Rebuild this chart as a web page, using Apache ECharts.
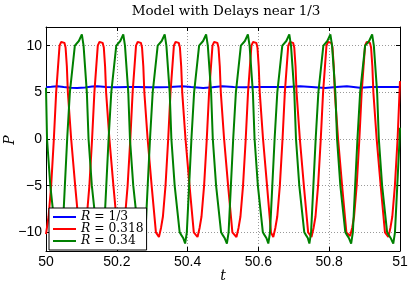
<!DOCTYPE html>
<html>
<head>
<meta charset="utf-8">
<script src="https://cdn.jsdelivr.net/npm/echarts@6/dist/echarts.min.js"></script>
<style>
html,body{margin:0;padding:0;background:#fff;}
#chart{width:411px;height:284px;}
</style>
</head>
<body>
<div id="chart"></div>
<script>
const titleText = 'Model with Delays near 1/3';
const xLabel = 't';
const yLabel = 'P';
const legendNames = ['R = 1/3', 'R = 0.318', 'R = 0.34'];
const xTicks = [50, 50.2, 50.4, 50.6, 50.8, 51];
const yTicks = [-10, -5, 0, 5, 10];

const blueData = [
[50.000,5.55],[50.015,5.6],[50.032,5.66],[50.05,5.58],[50.07,5.5],[50.088,5.46],[50.11,5.52],[50.13,5.62],[50.145,5.65],[50.17,5.58],[50.2,5.55],[50.23,5.56],[50.26,5.57],[50.29,5.55],[50.32,5.54],[50.35,5.57],[50.385,5.65],[50.41,5.56],[50.444,5.47],[50.47,5.55],[50.498,5.65],[50.53,5.58],[50.56,5.55],[50.6,5.56],[50.64,5.56],[50.68,5.58],[50.718,5.65],[50.75,5.58],[50.789,5.47],[50.82,5.56],[50.85,5.65],[50.887,5.5],[50.92,5.56],[50.96,5.57],[51.0,5.57]
];

const redData = [
[50.000,-10.2],[50.0073,-8.3],[50.0146,-5],[50.0222,0],[50.0287,5],[50.0383,10],[50.0430,10.4],[50.0476,10.5],[50.0520,10.3],[50.0553,9.8],[50.0589,7.8],[50.0618,5],[50.0711,0],[50.0824,-5],[50.0945,-10],
[50.104,-10.5],[50.110,-9.5],[50.1153,-8.3],[50.1226,-5],[50.1302,0],[50.1367,5],[50.1463,10],[50.151,10.4],[50.1556,10.5],[50.160,10.3],[50.1633,9.8],[50.1669,7.8],[50.1698,5],[50.1791,0],[50.1904,-5],[50.2025,-10],
[50.212,-10.5],[50.218,-9.5],[50.2233,-8.3],[50.2306,-5],[50.2382,0],[50.2447,5],[50.2543,10],[50.259,10.4],[50.2636,10.5],[50.268,10.3],[50.2713,9.8],[50.2749,7.8],[50.2778,5],[50.2871,0],[50.2984,-5],[50.3105,-10],
[50.319,-10.5],[50.325,-9.5],[50.3303,-8.3],[50.3376,-5],[50.3452,0],[50.3517,5],[50.3613,10],[50.366,10.4],[50.3706,10.5],[50.375,10.3],[50.3783,9.8],[50.3819,7.8],[50.3848,5],[50.3941,0],[50.4054,-5],[50.4175,-10],
[50.428,-10.5],[50.434,-9.5],[50.4393,-8.3],[50.4466,-5],[50.4542,0],[50.4607,5],[50.4703,10],[50.475,10.4],[50.4796,10.5],[50.484,10.3],[50.4873,9.8],[50.4909,7.8],[50.4938,5],[50.5031,0],[50.5144,-5],[50.5265,-10],
[50.538,-10.5],[50.544,-9.5],[50.5493,-8.3],[50.5566,-5],[50.5642,0],[50.5707,5],[50.5803,10],[50.585,10.4],[50.5896,10.5],[50.594,10.3],[50.5973,9.8],[50.6009,7.8],[50.6038,5],[50.6131,0],[50.6244,-5],[50.6355,-10],
[50.642,-10.5],[50.648,-9.5],[50.6533,-8.3],[50.6606,-5],[50.6682,0],[50.6747,5],[50.6843,10],[50.689,10.4],[50.6936,10.5],[50.698,10.3],[50.7013,9.8],[50.7049,7.8],[50.7078,5],[50.7171,0],[50.7284,-5],[50.7405,-10],
[50.750,-10.5],[50.756,-9.5],[50.7613,-8.3],[50.7686,-5],[50.7762,0],[50.7827,5],[50.7923,10],[50.797,10.4],[50.8016,10.5],[50.806,10.3],[50.8093,9.8],[50.8129,7.8],[50.8158,5],[50.8251,0],[50.8364,-5],[50.8485,-10],
[50.859,-10.4],[50.865,-9.5],[50.8703,-8.3],[50.8776,-5],[50.8852,0],[50.8917,5],[50.9013,10],[50.906,10.4],[50.9106,10.5],[50.915,10.3],[50.9183,9.8],[50.9219,7.8],[50.9248,5],[50.9341,0],[50.9454,-5],[50.9575,-10],
[50.967,-10.5],[50.973,-9.5],[50.9783,-8.3],[50.9856,-5],[50.9932,0],[51.000,6.2]
];

const greenData = [
[50.000,5.5],[50.0029,0],[50.0122,-5],[50.0263,-10],[50.031,-10.3],[50.0362,-10.6],
[50.042,-11.2],[50.0468,-10],[50.0533,-5],[50.0598,0],[50.0674,5],[50.0815,10],[50.0857,10.2],[50.0928,10.5],[50.1013,11.2],[50.1061,10],[50.1154,5],[50.1202,0],[50.1295,-5],[50.1436,-10],[50.1484,-10.3],[50.1535,-10.6],
[50.159,-11.2],[50.1638,-10],[50.1703,-5],[50.1768,0],[50.1844,5],[50.1985,10],[50.2027,10.2],[50.2098,10.5],[50.2183,11.2],[50.2231,10],[50.2324,5],[50.2372,0],[50.2465,-5],[50.2606,-10],[50.2654,-10.3],[50.2705,-10.6],
[50.276,-11.2],[50.2808,-10],[50.2873,-5],[50.2938,0],[50.3014,5],[50.3155,10],[50.3197,10.2],[50.3268,10.5],[50.3353,11.2],[50.3401,10],[50.3494,5],[50.3542,0],[50.3635,-5],[50.3776,-10],[50.3824,-10.3],[50.3875,-10.6],
[50.393,-11.2],[50.3978,-10],[50.4043,-5],[50.4108,0],[50.4184,5],[50.4325,10],[50.4367,10.2],[50.4438,10.5],[50.4523,11.2],[50.4571,10],[50.4664,5],[50.4712,0],[50.4805,-5],[50.4946,-10],[50.4994,-10.3],[50.5045,-10.6],
[50.511,-11.2],[50.5158,-10],[50.5223,-5],[50.5288,0],[50.5364,5],[50.5505,10],[50.5547,10.2],[50.5618,10.5],[50.5703,11.2],[50.5751,10],[50.5844,5],[50.5892,0],[50.5985,-5],[50.6126,-10],[50.6174,-10.3],[50.6225,-10.6],
[50.628,-11.2],[50.6328,-10],[50.6393,-5],[50.6458,0],[50.6534,5],[50.6675,10],[50.6717,10.2],[50.6788,10.5],[50.6873,11.2],[50.6921,10],[50.7014,5],[50.7062,0],[50.7155,-5],[50.7296,-10],[50.7344,-10.3],[50.7395,-10.6],
[50.744,-11.2],[50.7488,-10],[50.7553,-5],[50.7618,0],[50.7694,5],[50.7835,10],[50.7877,10.2],[50.7948,10.5],[50.8033,11.2],[50.8081,10],[50.8174,5],[50.8222,0],[50.8315,-5],[50.8456,-10],[50.8504,-10.3],[50.8555,-10.6],
[50.862,-11.2],[50.8668,-10],[50.8733,-5],[50.8798,0],[50.8874,5],[50.9015,10],[50.9057,10.2],[50.9128,10.5],[50.9213,11.2],[50.9261,10],[50.9354,5],[50.9402,0],[50.9495,-5],[50.9636,-10],[50.9684,-10.3],[50.9735,-10.6],
[50.981,-11.2],[50.9858,-10],[50.9923,-5],[50.9988,0],[51.000,1.2]
];

const colors = ['#0000ff', '#ff0000', '#008000'];

const chart = echarts.init(document.getElementById('chart'), null, {renderer: 'canvas'});

const sansFont = '"Liberation Sans", Arial, sans-serif';
const serifFont = '"DejaVu Serif", serif';

function yFmt(v) {
  if (yTicks.indexOf(v) < 0) return '';
  return String(v).replace('-', '\u2212');
}

const tickStyle = {show: true, inside: true, length: 4, lineStyle: {color: '#000', width: 1}};
const axisLineStyle = {show: true, onZero: false, lineStyle: {color: '#000', width: 1}};
const gridLine = {show: true, lineStyle: {color: '#9a9a9a', width: 1, type: [1, 2]}};

function mkSeries(name, data, color) {
  return {
    name: name, type: 'line', data: data, xAxisIndex: 0, yAxisIndex: 0,
    symbol: 'none', showSymbol: false, smooth: false, animation: false,
    lineStyle: {color: color, width: 2}, itemStyle: {color: color},
    clip: true
  };
}

const option = {
  backgroundColor: '#fff',
  animation: false,
  grid: {left: 46, right: 11, top: 27, bottom: 33, containLabel: false, outerBoundsMode: 'none'},
  xAxis: [
    {type: 'value', min: 50, max: 51, interval: 0.2, position: 'bottom',
     axisLine: axisLineStyle, axisTick: tickStyle, splitLine: gridLine,
     axisLabel: {color: '#000', fontFamily: sansFont, fontSize: 14, margin: 4}},
    {type: 'value', min: 50, max: 51, interval: 0.2, position: 'top',
     axisLine: axisLineStyle, axisTick: tickStyle, splitLine: {show: false},
     axisLabel: {show: false}}
  ],
  yAxis: [
    {type: 'value', min: -12, max: 12, position: 'left',
     axisLine: axisLineStyle, axisTick: tickStyle, splitLine: gridLine,
     axisLabel: {color: '#000', fontFamily: sansFont, fontSize: 14, margin: 4, formatter: yFmt}},
    {type: 'value', min: -12, max: 12, position: 'right',
     axisLine: axisLineStyle, axisTick: tickStyle, splitLine: {show: false},
     axisLabel: {show: false}}
  ],
  legend: {
    orient: 'vertical', left: 49, top: 208,
    data: legendNames.map(function (n) { return {name: n, icon: 'rect'}; }),
    itemWidth: 23, itemHeight: 2, itemGap: 0,
    padding: [3, 3, 3, 4],
    backgroundColor: '#fff', borderColor: '#000', borderWidth: 1, borderRadius: 0,
    selectedMode: false,
    formatter: function (n) { return '{i|R}' + n.slice(1); },
    textStyle: {color: '#000', fontFamily: serifFont, fontSize: 12.3, lineHeight: 11,
      rich: {i: {fontStyle: 'italic', fontFamily: serifFont, fontSize: 12.3, lineHeight: 11, color: '#000'}}}
  },
  graphic: [
    {type: 'text', x: 226, y: 11.5, style: {text: titleText, fontFamily: serifFont, fontSize: 13.5, fill: '#000', textAlign: 'center', textVerticalAlign: 'middle'}},
    {type: 'text', x: 223, y: 276, style: {text: xLabel, fontFamily: serifFont, fontStyle: 'italic', fontSize: 14, fill: '#000', textAlign: 'center', textVerticalAlign: 'middle'}},
    {type: 'text', x: 10, y: 140, rotation: Math.PI / 2, style: {text: yLabel, fontFamily: serifFont, fontStyle: 'italic', fontSize: 14, fill: '#000', textAlign: 'center', textVerticalAlign: 'middle'}}
  ],
  series: [
    mkSeries(legendNames[0], blueData, colors[0]),
    mkSeries(legendNames[1], redData, colors[1]),
    mkSeries(legendNames[2], greenData, colors[2])
  ]
};

chart.setOption(option);
</script>
</body>
</html>
